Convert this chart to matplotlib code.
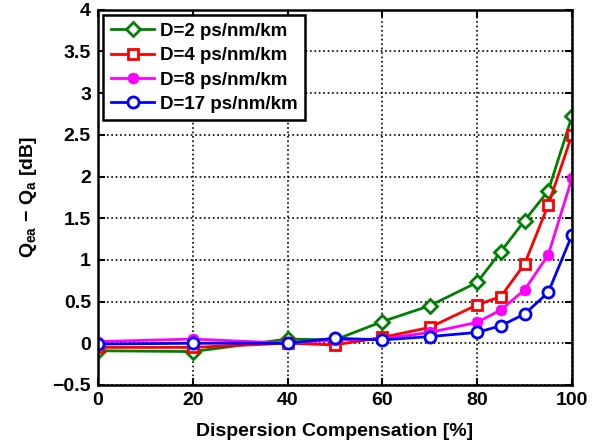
import matplotlib
matplotlib.use("Agg")
import matplotlib.pyplot as plt

plt.rcParams['font.family'] = ['Liberation Sans', 'DejaVu Sans']
plt.rcParams['font.weight'] = 'bold'
plt.rcParams['mathtext.fontset'] = 'custom'
plt.rcParams['mathtext.bf'] = 'Liberation Sans:bold'
plt.rcParams['mathtext.rm'] = 'Liberation Sans:bold'
plt.rcParams['mathtext.default'] = 'bf'

comp = [0, 20, 40, 50, 60, 70, 80, 85, 90, 95, 100]
d2 = [-0.09, -0.10, 0.05, 0.04, 0.26, 0.45, 0.73, 1.10, 1.47, 1.83, 2.72]
d4 = [-0.05, -0.05, 0.00, -0.02, 0.07, 0.19, 0.46, 0.56, 0.95, 1.66, 2.50]
d8 = [0.02, 0.05, 0.00, 0.04, 0.05, 0.13, 0.25, 0.40, 0.64, 1.06, 1.98]
d17 = [-0.01, 0.00, 0.00, 0.06, 0.04, 0.08, 0.13, 0.21, 0.35, 0.61, 1.30]
labels = ["D=2 ps/nm/km", "D=4 ps/nm/km", "D=8 ps/nm/km", "D=17 ps/nm/km"]

fig = plt.figure(figsize=(6.04, 4.45), dpi=100)
ax = fig.add_axes([0.162, 0.135, 0.785, 0.843])

ax.plot(comp, d2, color='#008000', lw=2, marker='D', ms=7, mfc='white', mec='#008000', mew=2, label=labels[0])
ax.plot(comp, d4, color='#ff0000', lw=2, marker='s', ms=7, mfc='white', mec='#ff0000', mew=2, label=labels[1])
ax.plot(comp, d8, color='#ff00ff', lw=2, marker=(8, 2, 0), ms=8, mfc='#ff00ff', mec='#ff00ff', mew=2.5, label=labels[2])
ax.plot(comp, d17, color='#0000ff', lw=2, marker='o', ms=8, mfc='white', mec='#0000ff', mew=2, label=labels[3])

ax.set_xlim(0, 100)
ax.set_ylim(-0.5, 4)
ax.set_xticks([0, 20, 40, 60, 80, 100])
ax.set_yticks([-0.5, 0, 0.5, 1, 1.5, 2, 2.5, 3, 3.5, 4])
ax.set_yticklabels(['−0.5', '0', '0.5', '1', '1.5', '2', '2.5', '3', '3.5', '4'])
ax.tick_params(direction='in', top=True, right=True, labelsize=14, width=1.5, length=5, pad=5)
for s in ax.spines.values():
    s.set_linewidth(1.8)
ax.grid(True, linestyle=':', color='black', lw=1.2)

ax.set_xlabel("Dispersion Compensation [%]", fontsize=14, fontweight='bold', labelpad=10)
ax.set_ylabel("Q$_{ea}$ − Q$_{a}$ [dB]", fontsize=14, fontweight='bold', labelpad=10)

leg = ax.legend(loc='upper left', fontsize=13.5, fancybox=False, framealpha=1,
                edgecolor='black', borderaxespad=0.3, handlelength=2.3,
                labelspacing=0.38, borderpad=0.4, handletextpad=0.3)
leg.get_frame().set_linewidth(1.8)

fig.savefig("out.png", dpi=100)
